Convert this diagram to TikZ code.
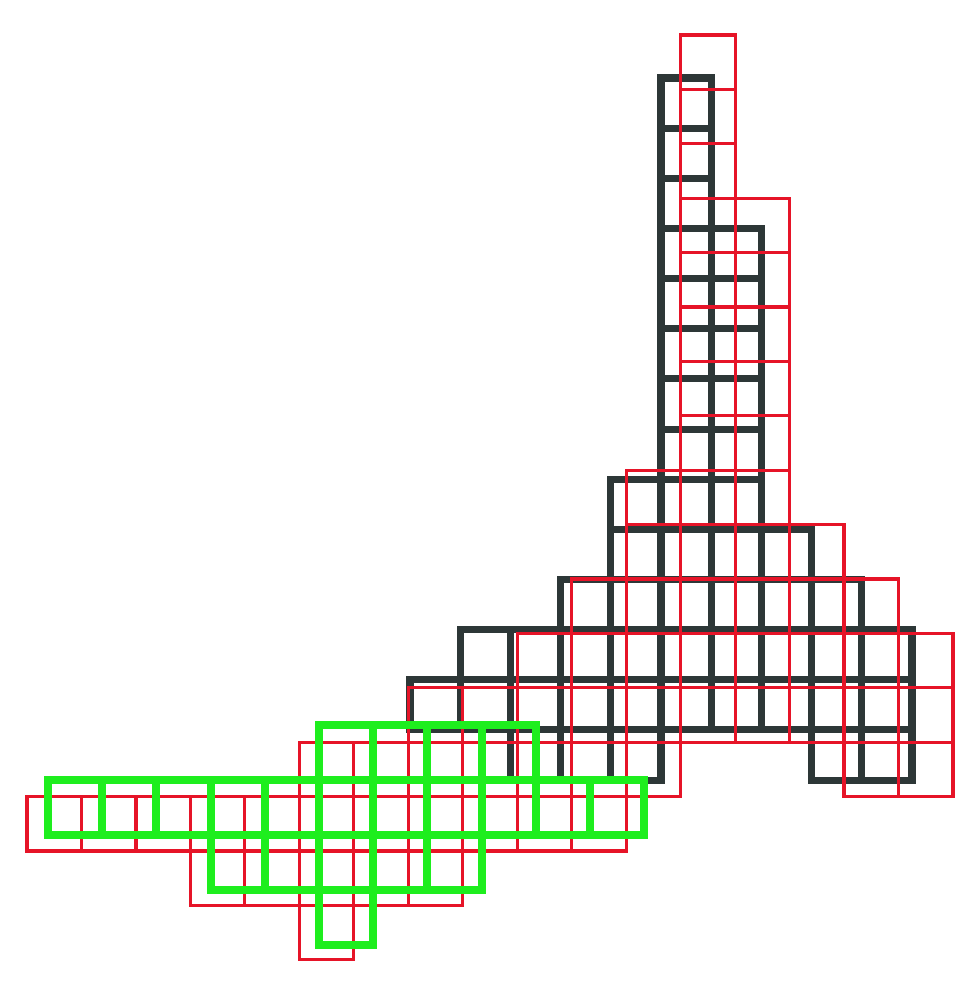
\documentclass[tikz,border=0pt]{standalone}
\definecolor{gridred}{RGB}{230,20,40}
\definecolor{griddark}{RGB}{45,55,55}
\definecolor{gridgreen}{RGB}{30,238,30}

\begin{document}
\begin{tikzpicture}[
    celldark/.style={draw=griddark, line width=4pt},
    cellred/.style={draw=gridred, line width=1.8pt},
    cellgreen/.style={draw=gridgreen, line width=4.5pt}
  ]
  \useasboundingbox (0,0) rectangle (19.54,-19.72);
  % dark mesh
  \begin{scope}[shift={(8.2,-1.56)}, x=1.004cm, y=-1.003cm]
    \foreach \r/\a/\b in {0/5/5, 1/5/5, 2/5/5, 3/5/6, 4/5/6, 5/5/6, 6/5/6,
        7/5/6, 8/4/6, 9/4/7, 10/3/8, 11/1/9, 12/0/9, 13/2/4, 13/8/9}
      \foreach \c in {\a,...,\b}
        \draw[celldark] (\c,\r) rectangle ++(1,1);
  \end{scope}
  % red mesh
  \begin{scope}[shift={(0.54,-0.70)}, x=1.0894cm, y=-1.088cm]
    \foreach \r/\a/\b in {0/12/12, 1/12/12, 2/12/12, 3/12/13, 4/12/13,
        5/12/13, 6/12/13, 7/12/13, 8/11/13, 9/11/14, 10/10/15, 11/9/16,
        12/7/16, 13/5/11, 13/15/16, 14/0/10, 15/3/7, 16/5/5}
      \foreach \c in {\a,...,\b}
        \draw[cellred] (\c,\r) rectangle ++(1,1);
  \end{scope}
  % green mesh
  \begin{scope}[shift={(0.96,-14.5)}, x=1.084cm, y=-1.1cm]
    \foreach \r/\a/\b in {0/5/8, 1/0/10, 2/3/7, 3/5/5}
      \foreach \c in {\a,...,\b}
        \draw[cellgreen] (\c,\r) rectangle ++(1,1);
  \end{scope}
\end{tikzpicture}
\end{document}
